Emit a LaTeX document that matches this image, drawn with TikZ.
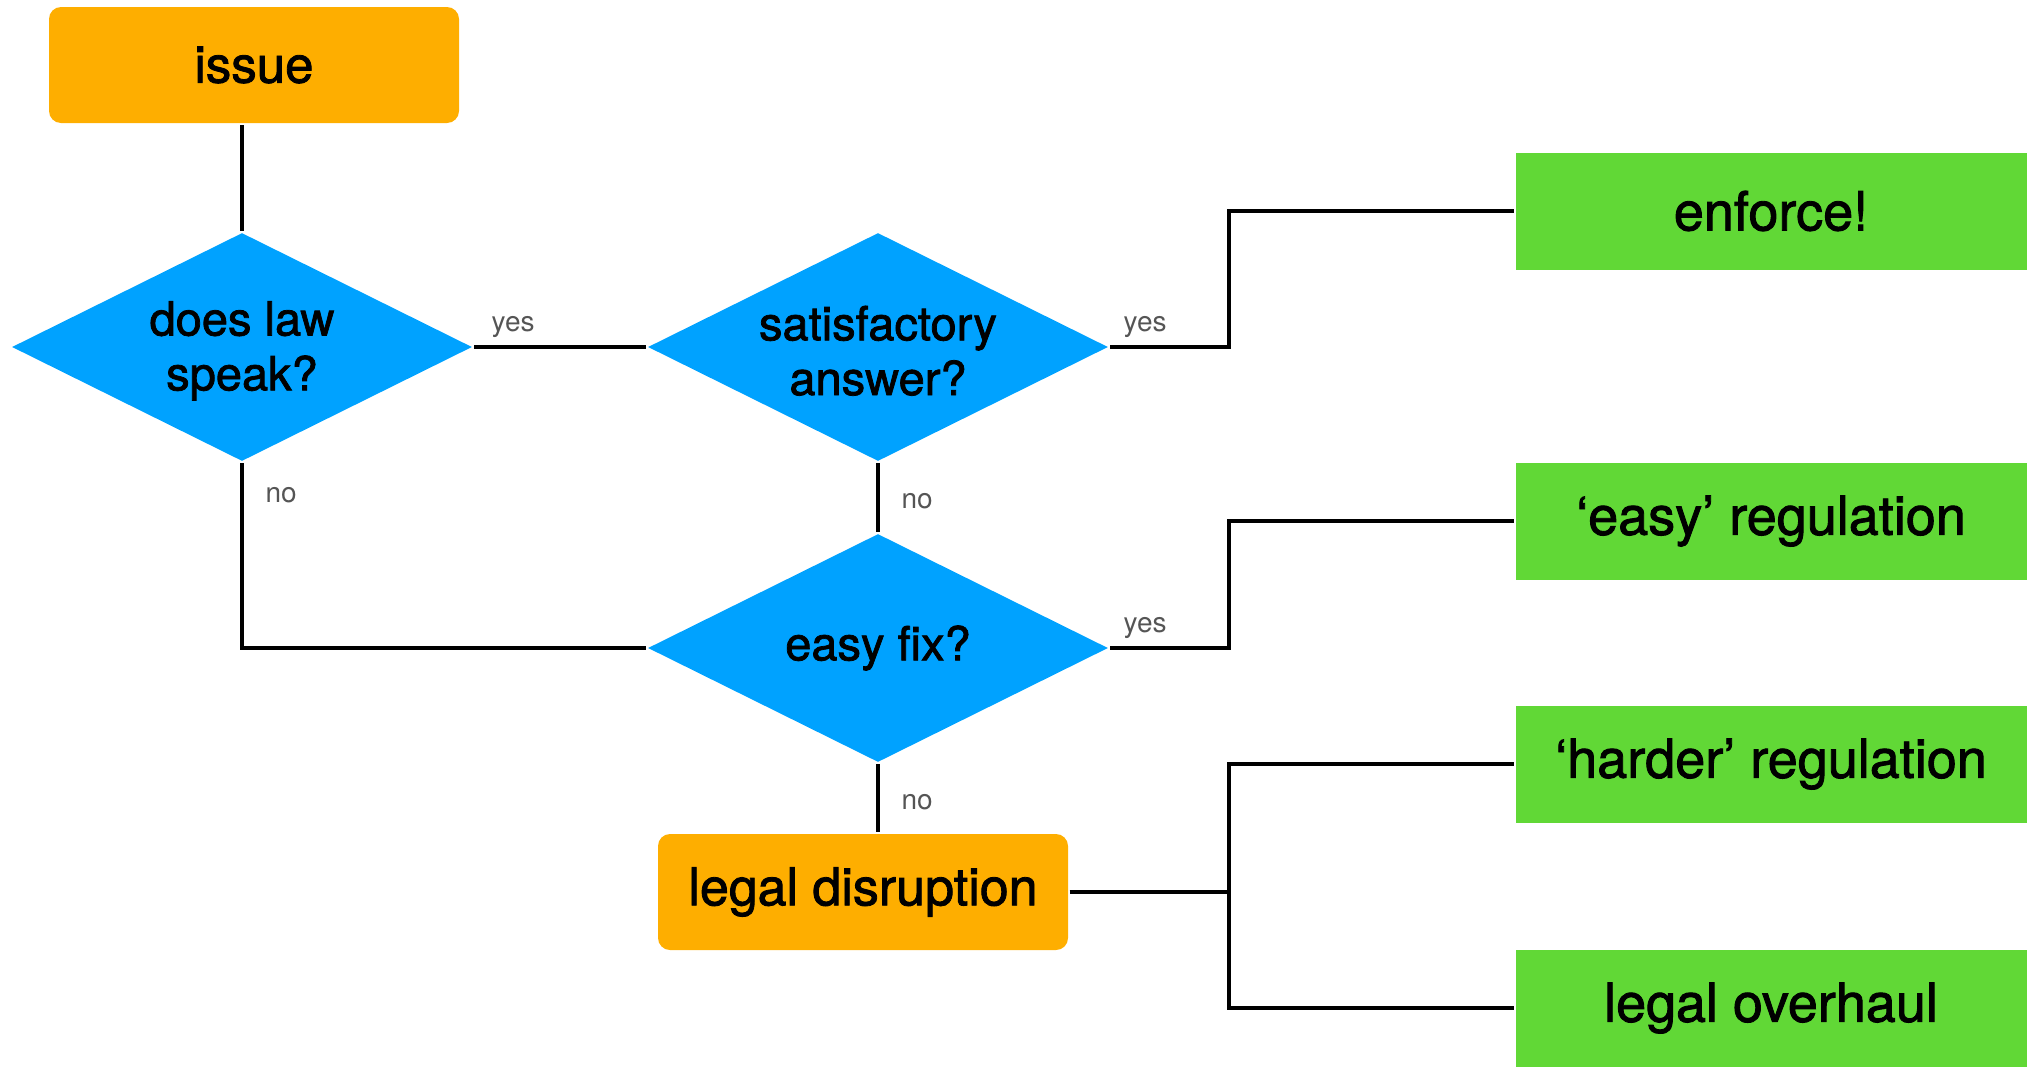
\documentclass[tikz,border=0pt]{standalone}
\usepackage{fontspec}
\setmainfont{TeX Gyre Heros}
\newfontfamily\boxfont[FakeBold=1.6]{TeX Gyre Heros}
\usetikzlibrary{shapes.geometric}

\definecolor{keyorange}{RGB}{254,174,0}
\definecolor{keyblue}{RGB}{0,162,255}
\definecolor{keygreen}{RGB}{97,216,54}
\definecolor{labelgray}{RGB}{85,85,85}

\tikzset{every picture/.style={line width=1.6pt}}

\begin{document}
\begin{tikzpicture}[x=0.5pt,y=0.5pt,yscale=-1,xscale=1,
    startbox/.style={font=\boxfont\fontsize{25.5}{28}\selectfont, fill=keyorange, rounded corners=6pt, minimum width=205pt, minimum height=58pt},
    question/.style={font=\boxfont\fontsize{23.5}{27.4}\selectfont, diamond, aspect=2, fill=keyblue, inner sep=0pt, align=center, minimum width=230.5pt, minimum height=114.5pt},
    outcome/.style={font=\boxfont\fontsize{27}{30}\selectfont, fill=keygreen, minimum width=255.5pt, minimum height=58.5pt},
    answer/.style={text=labelgray, inner sep=1pt, font=\fontsize{14}{16}\selectfont}]
    \useasboundingbox (0,0) rectangle (2040,1066);

    % start and questions
    \node [startbox] (issue) at (254,65) {issue};
    \node [question] (speak) at (242,347) {\rule{0pt}{21pt}does law\\speak?};
    \node [question] (satisfy) at (878,347) {\rule{0pt}{21pt}satisfactory\\answer?};
    \node [question] (easyfix) at (878,648) {easy fix?};
    \node [startbox, font=\boxfont\fontsize{26}{28}\selectfont] (disrupt) at (863,892) {legal disruption};

    % outcomes
    \node [outcome] (enforce) at (1771,211) {enforce!};
    \node [outcome] (easyreg) at (1771,521) {‘easy’ regulation};
    \node [outcome] (hardreg) at (1771,764) {‘harder’ regulation};
    \node [outcome] (overhaul) at (1771,1008) {legal overhaul};

    \coordinate (elbow) at (1229,0);

    % connectors
    \draw (speak.north) -- (speak.north |- issue.south);
    \draw (speak.east) -- (satisfy.west);
    \draw (satisfy.east) -- (satisfy.east -| elbow) |- (enforce.west);
    \draw (satisfy.south) -- (easyfix.north);
    \draw (speak.south) |- (easyfix.west);
    \draw (easyfix.east) -- (easyfix.east -| elbow) |- (easyreg.west);
    \draw (easyfix.south) -- (easyfix.south |- disrupt.north);
    \draw (disrupt.east) -- (disrupt.east -| elbow);
    \draw (hardreg.west) -- (hardreg.west -| elbow) -- (overhaul.west -| elbow) -- (overhaul.west);

    % answer labels
    \node [answer, anchor=south west] (yes1) at ([xshift=7pt,yshift=-3pt]speak.east) {yes};
    \node [answer, anchor=south west] (yes2) at ([xshift=5pt,yshift=-3pt]satisfy.east) {yes};
    \node [answer, anchor=south west] (yes3) at ([xshift=5pt,yshift=-3pt]easyfix.east) {yes};
    \node [answer, anchor=west] (no1) at ([xshift=10pt,yshift=16pt]speak.south) {no};
    \node [answer, anchor=west] (no2) at ([xshift=10pt,yshift=19pt]satisfy.south) {no};
    \node [answer, anchor=west] (no3) at ([xshift=10pt,yshift=19pt]easyfix.south) {no};

\end{tikzpicture}
\end{document}
